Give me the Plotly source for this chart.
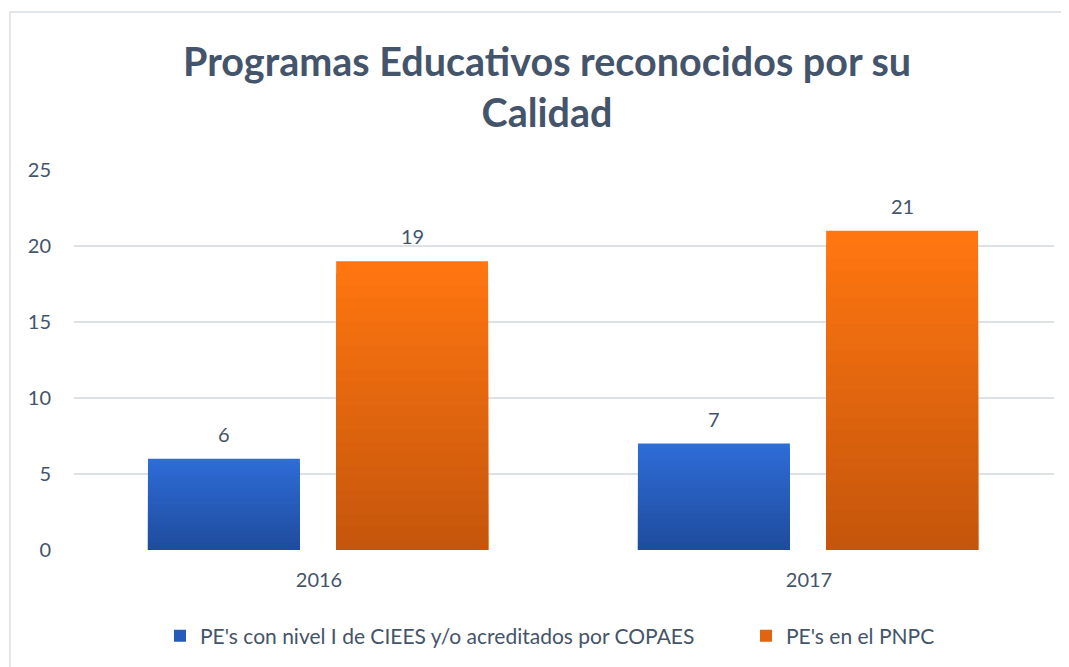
import plotly.graph_objects as go

categories = ["2016", "2017"]
series_names = ["PE's con nivel I de CIEES y/o acreditados por COPAES", "PE's en el PNPC"]
cieess_values = [6, 7]
pnpc_values = [19, 21]
y_ticks = [0, 5, 10, 15, 20, 25]

FONT = "Lato"
TXT = "#44546A"
top_colors = [(46, 108, 214), (255, 118, 16)]
bottom_colors = [(31, 76, 158), (197, 86, 12)]
bar_width = 0.31
offsets = [-0.349, 0.035]
legend_px = [152, 738]
legend_ids = ["legend", "legend2"]
STEPS = 24

W, H = 1061, 659
ML, MT = 66, 162
PW, PH = 980, 380


def mix(a, b, t):
    return "rgb(%d,%d,%d)" % tuple(round(a[i] + (b[i] - a[i]) * t) for i in range(3))


fig = go.Figure()
for s, (name, vals) in enumerate(zip(series_names, [cieess_values, pnpc_values])):
    off = offsets[s]
    # vertical gradient: full bar in the top colour, then shorter, darker overlays
    for k in range(STEPS):
        frac = (STEPS - k) / STEPS
        col = mix(top_colors[s], bottom_colors[s], k / (STEPS - 1))
        fig.add_trace(go.Bar(
            x=list(range(len(categories))), y=[v * frac for v in vals],
            name=name, legendgroup=name, showlegend=(k == STEPS // 2),
            legend=legend_ids[s],
            width=[bar_width] * len(vals), offset=[off] * len(vals),
            marker=dict(color=col, line=dict(width=0)),
            hoverinfo="skip" if k else "y",
        ))
    for i, v in enumerate(vals):
        fig.add_annotation(x=i + off + bar_width / 2, y=v, text=str(v), showarrow=False,
                           yshift=25, font=dict(family=FONT, size=20, color=TXT))

legend_common = dict(orientation="h", xanchor="left", y=(MT + PH - 628) / PH, yanchor="middle",
                     font=dict(family=FONT, size=21, color=TXT), itemclick=False,
                     bgcolor="rgba(0,0,0,0)")

fig.update_layout(
    width=W, height=H,
    margin=dict(l=ML, r=W - ML - PW, t=MT, b=H - MT - PH, autoexpand=False),
    paper_bgcolor="white", plot_bgcolor="white",
    barmode="overlay",
    font=dict(family=FONT, color=TXT, size=20),
    showlegend=True,
    legend=dict(x=(legend_px[0] - ML) / PW, **legend_common),
    legend2=dict(x=(legend_px[1] - ML) / PW, **legend_common),
    xaxis=dict(range=[-0.5, 1.5], tickmode="array", tickvals=list(range(len(categories))),
               ticktext=categories, showgrid=False, zeroline=False, showline=False,
               ticks="", ticklabelstandoff=16, tickfont=dict(family=FONT, size=20, color=TXT)),
    yaxis=dict(range=[0, 25], tickvals=y_ticks, showgrid=True, gridcolor="#DDE1E6", gridwidth=1.5,
               zeroline=False, showline=False, ticks="", ticklabelstandoff=22,
               tickfont=dict(family=FONT, size=20, color=TXT)),
)
fig.add_annotation(xref="paper", yref="paper", x=(539 - ML) / PW, y=(MT + PH - 78) / PH,
                   text="<b>Programas Educativos reconocidos por su<br>Calidad</b>",
                   showarrow=False, xanchor="center", yanchor="middle", align="center",
                   font=dict(family=FONT, size=39.5, color=TXT))
fig.add_shape(type="path", xref="paper", yref="paper",
              path=f"M {(2 - ML) / PW},{(MT + PH - H) / PH} L {(2 - ML) / PW},{(MT + PH - 4) / PH} "
                   f"L {(W - ML) / PW},{(MT + PH - 4) / PH}",
              line=dict(color="#D9DEE4", width=1.5))
fig.write_html("out.html")
